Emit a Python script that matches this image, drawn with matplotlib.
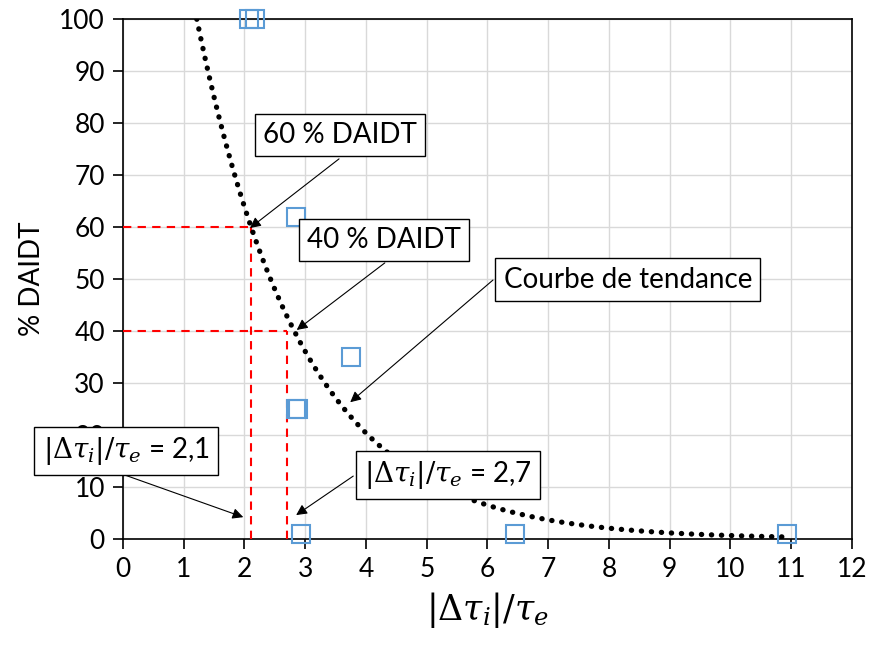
import numpy as np
import matplotlib
matplotlib.use("Agg")
import matplotlib.pyplot as plt

plt.rcParams['font.family'] = ['Lato', 'DejaVu Sans']
plt.rcParams['mathtext.fontset'] = 'dejavuserif'

# Data points (|Δτi|/τe, % DAIDT)
x_pts = [2.07, 2.17, 2.85, 3.75, 2.85, 2.88, 2.93, 6.45, 10.93]
y_pts = [100, 100, 62, 35, 25, 25, 1, 1, 1]

# Exponential trend curve parameters y = a * exp(-b x)
trend_a = 200.0
trend_b = 0.571
trend_xmin = 1.214
trend_xmax = 10.9

# Reference levels
levels_y = [60, 40]
levels_x = [2.1, 2.7]

x_ticks = list(range(0, 13))
y_ticks = list(range(0, 101, 10))

fig = plt.figure(figsize=(8.69, 6.46), dpi=100)
ax = fig.add_axes([123/869, 1-539/646, (852-123)/869, (539-19)/646])
ax.set_xlim(0, 12)
ax.set_ylim(0, 100)
ax.set_xticks(x_ticks)
ax.set_yticks(y_ticks)
ax.grid(True, color='#D9D9D9', lw=1)
ax.set_axisbelow(True)
for s in ax.spines.values():
    s.set_color('black')
    s.set_linewidth(1.2)
ax.tick_params(direction='out', length=7, width=1.2, colors='black',
               labelsize=19, pad=6)

# reference dashed lines
for yl, xl in zip(levels_y, levels_x):
    ax.plot([0, xl], [yl, yl], color='#FF0000', lw=1.5, ls=(0, (4, 3)), zorder=3)
    ax.plot([xl, xl], [0, yl], color='#FF0000', lw=1.5, ls=(0, (4, 3)), zorder=3)

# trend
xt = np.linspace(trend_xmin, trend_xmax, 400)
yt = trend_a * np.exp(-trend_b * xt)
ax.plot(xt, yt, color='black', lw=3.8, ls=(0, (0.05, 1.85)),
        dash_capstyle='round', zorder=4)

# points
ax.plot(x_pts, y_pts, ls='none', marker='s', markersize=13.5,
        markerfacecolor='none', markeredgecolor='#5B9BD5', markeredgewidth=1.5,
        zorder=5, clip_on=False)

ax.set_xlabel(r'$|\Delta\tau_i|/\tau_e$', fontsize=25, labelpad=6)
ax.set_ylabel('% DAIDT', fontsize=20, labelpad=10)

bbox = dict(boxstyle='square,pad=0.3', fc='white', ec='black', lw=1.0)
arrow = dict(arrowstyle='-|>', lw=0.8, color='black', mutation_scale=16,
             shrinkA=0, shrinkB=0)

# (text, text center, arrow start, arrow tip)
notes = [
    ('60 % DAIDT', (3.57, 77.7), (3.556, 73.1), (2.09, 59.8)),
    ('40 % DAIDT', (4.30, 57.5), (4.31, 53.1), (2.86, 40.2)),
    ('Courbe de tendance', (8.31, 49.9), (6.09, 49.8), (3.74, 26.3)),
    (r'$|\Delta\tau_i|/\tau_e$ = 2,1', (0.05, 16.9), (0.03, 12.3), (1.98, 4.2)),
    (r'$|\Delta\tau_i|/\tau_e$ = 2,7', (5.35, 12.3), (3.79, 12.1), (2.85, 4.6)),
]
for txt, c, s, t in notes:
    ax.annotate('', xy=t, xytext=s, arrowprops=arrow, zorder=6,
                annotation_clip=False)
    ax.text(c[0], c[1], txt, fontsize=20, ha='center', va='center',
            bbox=bbox, zorder=7, clip_on=False)

fig.savefig('out.png', dpi=100)
